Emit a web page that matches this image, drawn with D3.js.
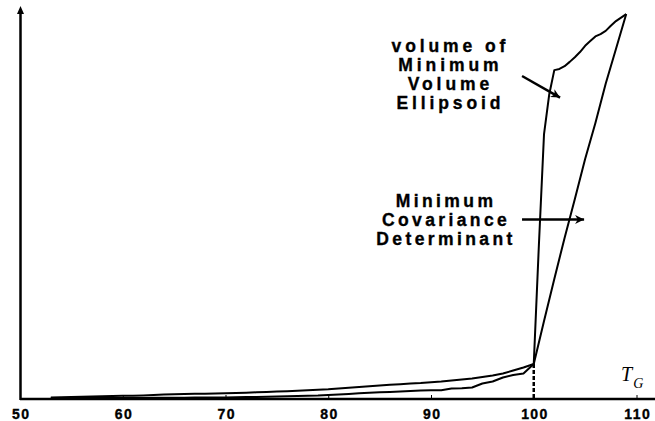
<!DOCTYPE html>
<html>
<head>
<meta charset="utf-8">
<script src="https://cdn.jsdelivr.net/npm/d3@7/dist/d3.min.js"></script>
<style>
  html, body { margin: 0; padding: 0; background: #fff; }
  svg { display: block; }
  .lbl { font-family: "Liberation Sans", Arial, Helvetica, sans-serif; font-weight: 700; fill: #000; stroke: #000; stroke-width: 0.35px; }
  .tg { font-family: "Liberation Serif", "Times New Roman", serif; font-style: italic; fill: #000; }
</style>
</head>
<body>
<svg id="chart" width="655" height="421"></svg>
<script>
// T_G values for the slowly growing part of both curves
const tgLow = [53, 54, 55, 56, 57, 58, 59, 60, 61, 62, 63, 64, 65, 66, 67, 68, 69, 70,
  71, 72, 73, 74, 75, 76, 77, 78, 79, 80, 81, 82, 83, 84, 85, 86, 87, 88, 89, 90,
  91, 92, 93, 94, 95, 96, 97, 98, 99, 100];

// volume of Minimum Volume Ellipsoid (relative units)
const mveLow = [0.38, 0.43, 0.51, 0.59, 0.64, 0.69, 0.77, 0.82, 0.84, 0.92, 1.02, 1.12,
  1.20, 1.28, 1.33, 1.35, 1.40, 1.45, 1.53, 1.61, 1.71, 1.79, 1.89, 1.99, 2.12, 2.24,
  2.37, 2.47, 2.68, 2.88, 3.06, 3.27, 3.44, 3.62, 3.78, 3.93, 4.08, 4.29, 4.46, 4.72,
  4.97, 5.23, 5.61, 5.99, 6.51, 7.27, 8.04, 8.93];

// Minimum Covariance Determinant (relative units)
const mcdLow = [0.26, 0.26, 0.26, 0.26, 0.26, 0.26, 0.26, 0.26, 0.26, 0.28, 0.31, 0.31,
  0.33, 0.33, 0.36, 0.38, 0.38, 0.41, 0.46, 0.51, 0.54, 0.59, 0.64, 0.71, 0.77, 0.82,
  0.89, 1.02, 1.15, 1.28, 1.45, 1.61, 1.71, 1.79, 1.91, 2.04, 2.17, 2.22, 2.24, 2.68,
  2.76, 2.93, 3.95, 4.46, 5.48, 6.12, 6.51, 8.93];

// steep part beyond T_G = 100
const tgMveHigh = [100.5, 101, 101.5, 102, 102.5, 103, 103.5, 104, 104.5, 105, 105.5,
  106, 106.5, 107, 107.5, 108, 108.5, 109];
const mveHigh = [39.3, 67.6, 77.6, 83.9, 84.2, 84.9, 86.0, 87.2, 88.5, 90.1, 91.3, 92.5,
  93.1, 93.9, 95.2, 96.4, 97.3, 98.2];

const tgMcdHigh = [101, 102, 103, 104, 105, 106, 107, 108, 109];
const mcdHigh = [19.9, 30.6, 41.1, 51.0, 61.2, 70.4, 80.4, 89.3, 98.2];

const xTicks = [50, 60, 70, 80, 90, 100, 110];
const breakTg = 100;

// annotation labels and where their arrows point (data units)
const mveLabel = ["volume of", "Minimum", "Volume", "Ellipsoid"];
const mcdLabel = ["Minimum", "Covariance", "Determinant"];
const mveArrow = { x0: 98.86, y0: 82.4, x1: 102.56, y1: 76.9, tx: 91.7, ty: 88.4 };
const mcdArrow = { x0: 98.86, y0: 45.8, x1: 104.9, y1: 45.8, tx: 91.3, ty: 49.0 };

const svg = d3.select("#chart");
const W = 655, H = 421;
svg.append("rect").attr("width", W).attr("height", H).attr("fill", "#fff");

const x = d3.scaleLinear().domain([50, 110]).range([20, 636.5]);
const y = d3.scaleLinear().domain([0, 100]).range([399, 7]);

const mvePts = tgLow.map((t, i) => [t, mveLow[i]])
  .concat(tgMveHigh.map((t, i) => [t, mveHigh[i]]));
const mcdPts = tgLow.map((t, i) => [t, mcdLow[i]])
  .concat(tgMcdHigh.map((t, i) => [t, mcdHigh[i]]));

const line = d3.line().x(d => x(d[0])).y(d => y(d[1]));

const defs = svg.append("defs");
defs.append("marker")
  .attr("id", "head")
  .attr("viewBox", "0 0 10 10")
  .attr("refX", 10).attr("refY", 5)
  .attr("markerUnits", "userSpaceOnUse")
  .attr("markerWidth", 12).attr("markerHeight", 9)
  .attr("orient", "auto")
  .append("path").attr("d", "M0,0 L10,5 L0,10 L3,5 Z").attr("fill", "#000");

// curves
[mvePts, mcdPts].forEach(pts => {
  svg.append("path")
    .attr("d", line(pts))
    .attr("fill", "none")
    .attr("stroke", "#000")
    .attr("stroke-width", 2)
    .attr("stroke-linejoin", "round");
});

// dashed drop line at the break point
const breakVal = mveLow[tgLow.indexOf(breakTg)];
svg.append("line")
  .attr("x1", x(breakTg)).attr("x2", x(breakTg))
  .attr("y1", y(breakVal)).attr("y2", y(0))
  .attr("stroke", "#000").attr("stroke-width", 2.5)
  .attr("stroke-dasharray", "4,2");

// x axis
const xAxis = d3.axisBottom(x).tickValues(xTicks).tickSize(-4).tickPadding(10.5);
const gx = svg.append("g").attr("transform", `translate(0,${y(0)})`).call(xAxis);
gx.attr("font-size", null).attr("font-family", null);
gx.select(".domain").remove();
gx.selectAll(".tick line").attr("stroke", "#000").attr("stroke-width", 1);
gx.selectAll(".tick text")
  .attr("class", "lbl")
  .style("font-size", "14px")
  .style("letter-spacing", "1.4px")
  .attr("dx", 0.7);
svg.append("line")
  .attr("x1", x(50)).attr("x2", W)
  .attr("y1", y(0)).attr("y2", y(0))
  .attr("stroke", "#000").attr("stroke-width", 2.5);

// y axis with arrow
svg.append("line")
  .attr("x1", x(50) + 0.5).attr("x2", x(50) + 0.5)
  .attr("y1", y(0) + 1).attr("y2", 12)
  .attr("stroke", "#000").attr("stroke-width", 2.5);
svg.append("path")
  .attr("d", `M${x(50) + 0.5},6 L${x(50) + 4},14 L${x(50) - 3},14 Z`)
  .attr("fill", "#000");

// axis title T_G
const tLabel = svg.append("text")
  .attr("class", "tg")
  .attr("x", 621).attr("y", 381);
tLabel.append("tspan").style("font-size", "20px").text("T");
tLabel.append("tspan").style("font-size", "14px").attr("dy", 7).attr("dx", 1).text("G");

// annotations
function annotate(lines, a, ls) {
  svg.append("line")
    .attr("x1", x(a.x0)).attr("y1", y(a.y0))
    .attr("x2", x(a.x1)).attr("y2", y(a.y1))
    .attr("stroke", "#000").attr("stroke-width", 2.5)
    .attr("marker-end", "url(#head)");
  const t = svg.append("text")
    .attr("class", "lbl")
    .attr("text-anchor", "middle")
    .style("font-size", "17.5px")
    .style("letter-spacing", ls + "px");
  lines.forEach((s, i) => {
    t.append("tspan")
      .attr("x", x(a.tx) + ls / 2)
      .attr("y", y(a.ty) + i * 18.8)
      .text(s);
  });
}
annotate(mveLabel, mveArrow, 3.9);
annotate(mcdLabel, mcdArrow, 3.4);
</script>
</body>
</html>
